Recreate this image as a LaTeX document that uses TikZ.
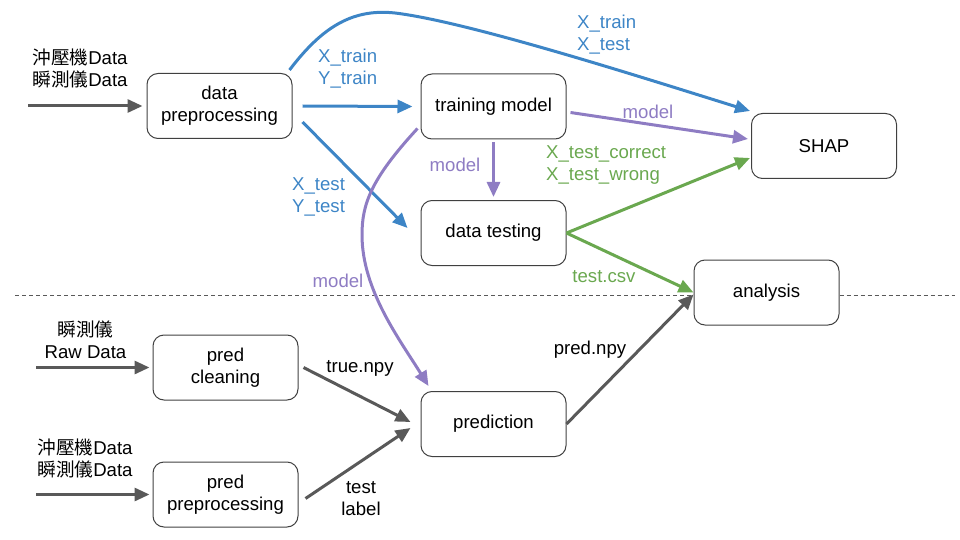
\documentclass[tikz,border=0pt]{standalone}
\usepackage{fontspec}
\setmainfont{Liberation Sans}
\newfontfamily\cjk{Noto Sans CJK TC}
\usetikzlibrary{arrows.meta}
\definecolor{cblue}{HTML}{3D85C6}
\definecolor{cpurple}{HTML}{8E7CC3}
\definecolor{cgreen}{HTML}{6AA84F}
\definecolor{cgray}{HTML}{595959}
\definecolor{cbord}{HTML}{404040}
\begin{document}
\begin{tikzpicture}[x=1pt,y=-1pt,
  every node/.style={font=\fontsize{18.6pt}{22pt}\selectfont},
  box/.style={draw=cbord,line width=1pt,rounded corners=11pt,minimum width=145pt,minimum height=65pt,align=center,inner sep=0pt},
  lbl/.style={align=center,inner sep=0pt},
  lbll/.style={align=left,inner sep=0pt,anchor=west},
  arr/.style={line width=3pt,-{Triangle[length=15pt,width=13pt]}},
  barr/.style={arr,cblue},
  parr/.style={arr,cpurple},
  garr/.style={arr,cgreen},
  karr/.style={arr,cgray},
  sep/.style={cgray,line width=0.8pt,dash pattern=on 4pt off 3pt}]
\useasboundingbox (0,0) rectangle (960,540);
% dashed separator
\node[box] (an) at (766.5,292.5) {analysis};
\coordinate (dl) at (15,295);
\coordinate (dr) at (955,295);
\draw[sep] (dl) -- (dl -| an.west);
\draw[sep] (dr -| an.east) -- (dr);
% nodes
\node[box] (dp) at (219.5,106) {data\\preprocessing};
\node[box] (tm) at (493.5,106.5) {training model};
\node[box] (dt) at (493.5,233) {data testing};
\node[box] (shap) at (824,146) {SHAP};
\node[box] (pr) at (493.5,424) {prediction};
\node[box] (pc) at (225.5,367.5) {pred\\cleaning};
\node[box] (pp) at (225.5,494.5) {pred\\preprocessing};
% input coordinates
\coordinate (in1) at (28,106);
\coordinate (in2) at (36,367.5);
\coordinate (in3) at (36,494.5);
% input labels
\node[lbl] (t1) at (80,68) {{\cjk 沖壓機}Data\\{\cjk 瞬測儀}Data};
\node[lbl] (t2) at (85.5,340) {{\cjk 瞬測儀}\\Raw Data};
\node[lbl] (t3) at (85,458) {{\cjk 沖壓機}Data\\{\cjk 瞬測儀}Data};
% input arrows
\draw[karr] (in1) -- ([xshift=-4pt]dp.west);
\draw[karr] (in2) -- ([xshift=-3pt]pc.west);
\draw[karr] (in3) -- ([xshift=-3pt]pp.west);
% blue
\draw[barr] ([xshift=10pt]dp.east) -- ([xshift=-8pt]tm.west);
\draw[barr] ([xshift=10pt,yshift=-16pt]dp.east) -- ([xshift=-13pt,yshift=5pt]dt.west);
\draw[barr] ([xshift=-3pt,yshift=3pt]dp.north east) .. controls (320,30) and (350,8) .. (395,13)
  .. controls (470,22) and (650,80) .. ([xshift=-1pt,yshift=2pt]shap.north west);
\node[lbll,text=cblue] (l1) at (318,69) {X\_train\\Y\_train};
\node[lbll,text=cblue] (l2) at (577,34.5) {X\_train\\X\_test};
\node[lbll,text=cblue] (l3) at (292,197) {X\_test\\Y\_test};
% purple
\draw[parr] ([xshift=4pt,yshift=-6pt]tm.east) -- ([xshift=-3pt,yshift=7pt]shap.west);
\draw[parr] ([yshift=-3pt]tm.south) -- ([yshift=3pt]dt.north);
\draw[parr] ([xshift=-3pt,yshift=11pt]tm.south west) .. controls (370,180) and (362,205) .. (362,235)
  .. controls (362,290) and (400,340) .. ([xshift=8pt,yshift=5pt]pr.north west);
\node[lbl,text=cpurple] (m1) at (648,112) {model};
\node[lbl,text=cpurple] (m2) at (455,165) {model};
\node[lbl,text=cpurple] (m3) at (338,281) {model};
% green
\draw[garr] (dt.east) -- ([xshift=-1pt,yshift=-12pt]shap.west);
\draw[garr] (dt.east) -- (an.west);
\node[lbll,text=cgreen] (g1) at (546,165.5) {X\_test\_correct\\X\_test\_wrong};
\node[lbl,text=cgreen] (g2) at (604,277) {test.csv};
% gray
\draw[karr] ([xshift=5pt]pc.east) -- ([xshift=-10pt,yshift=2pt]pr.west);
\draw[karr] ([xshift=7pt,yshift=-4pt]pp.east) -- ([xshift=-10pt,yshift=-4pt]pr.west);
\draw[karr] (pr.east) -- ([yshift=-2pt]an.west);
\node[lbl] (k1) at (360,368) {true.npy};
\node[lbl] (k2) at (361,498.5) {test\\label};
\node[lbl] (k3) at (590,350) {pred.npy};
\end{tikzpicture}
\end{document}
